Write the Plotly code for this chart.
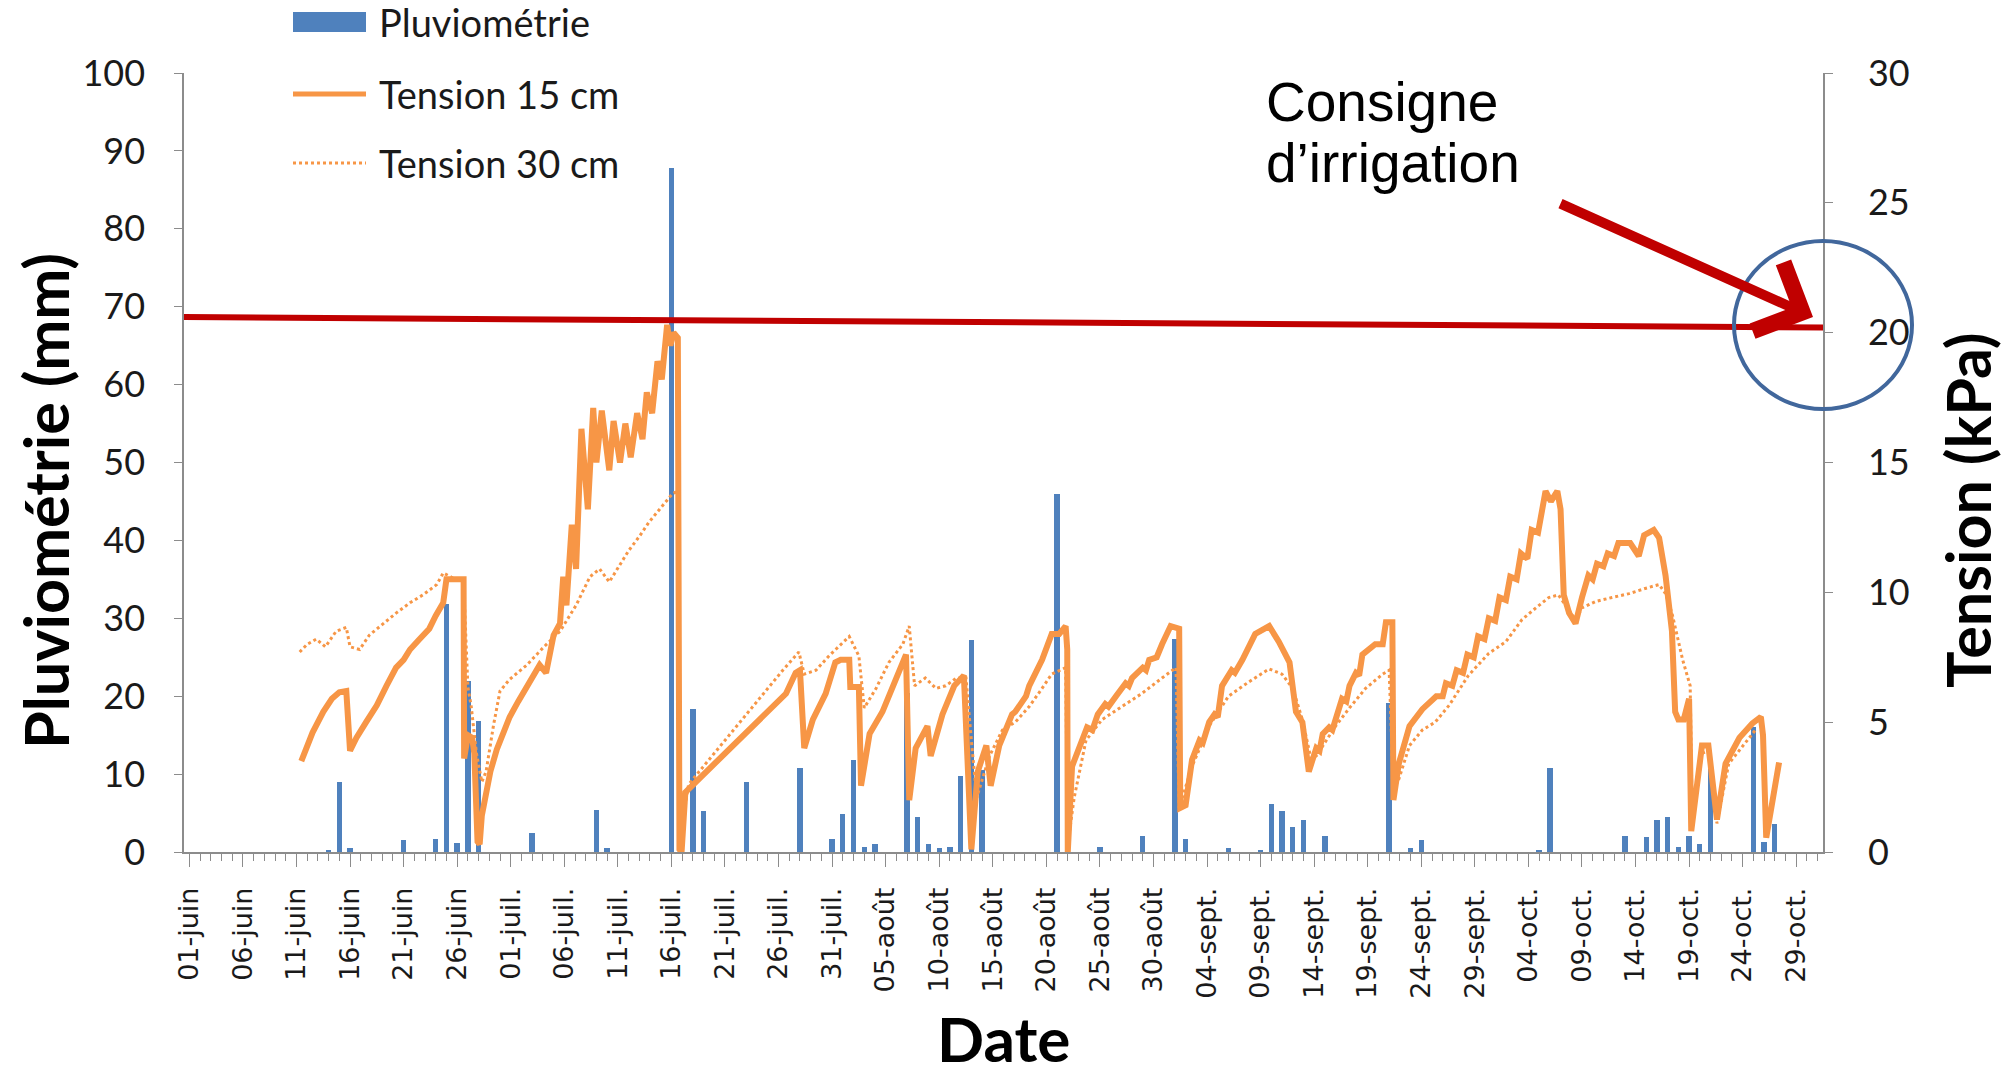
import pandas as pd
import plotly.graph_objects as go

SEASON_START = pd.Timestamp("2014-06-01")

# Daily rainfall: day offset from 1 June, amount in mm
rain_day = [13, 14, 15, 20, 23, 24, 25, 26, 27, 32, 38, 39, 45, 47, 48, 52, 57,
            60, 61, 62, 63, 64, 67, 68, 69, 70, 71, 72, 73, 74, 81, 82, 85, 89,
            92, 93, 97, 100, 101, 102, 103, 104, 106, 112, 114, 115, 126, 127,
            134, 136, 137, 138, 139, 140, 141, 142, 146, 147, 148]
rain_mm = [0.2, 9.0, 0.5, 1.5, 1.7, 31.8, 1.1, 22.0, 16.8, 2.4, 5.4, 0.5, 87.8,
           18.4, 5.3, 9.0, 10.8, 1.7, 4.9, 11.8, 0.7, 1.0, 20.4, 4.5, 1.0, 0.5,
           0.7, 9.8, 27.2, 10.5, 46.0, 0.4, 0.7, 2.1, 27.4, 1.7, 0.5, 0.2, 6.2,
           5.2, 3.2, 4.1, 2.1, 19.1, 0.5, 1.5, 0.2, 10.8, 2.0, 1.9, 4.1, 4.5,
           0.7, 2.1, 1.0, 10.6, 16.1, 1.3, 3.6]

# Soil water tension at 15 cm: time (days from 1 June), kPa
t15_day = [10.45, 11.5, 12.5, 13.3, 14.0, 14.65, 15.0, 15.6, 16.5, 17.5, 18.4,
           19.3, 20.0, 20.6, 21.5, 22.4, 23.0, 23.7, 24.0, 25.6, 25.65, 26.0,
           26.4, 26.6, 26.9, 27.1, 27.3, 27.6, 28.1, 28.7, 29.3, 29.9, 30.7,
           31.5, 32.1, 32.7, 33.3, 34.0, 34.6, 34.9, 35.2, 35.7, 36.1, 36.6,
           37.2, 37.7, 38.0, 38.5, 39.2, 39.6, 40.2, 40.7, 41.2, 41.8, 42.3,
           42.7, 43.2, 43.7, 44.1, 44.6, 44.9, 45.2, 45.6, 45.75, 45.95, 46.3,
           55.7, 56.6, 57.0, 57.4, 58.2, 59.4, 60.3, 60.8, 61.6, 61.7, 62.5,
           62.7, 63.5, 64.7, 65.9, 66.9, 67.2, 67.8, 68.9, 69.2, 70.3, 71.4,
           72.3, 72.6, 73.0, 73.6, 74.4, 74.8, 75.6, 76.8, 77.1, 78.1, 78.4,
           79.6, 80.5, 81.2, 81.8, 81.95, 82.0, 82.4, 83.3, 83.8, 84.3, 84.8,
           85.5, 85.8, 86.5, 87.4, 87.7, 88.0, 89.0, 89.3, 89.6, 90.3, 90.8,
           91.6, 92.4, 92.5, 93.0, 93.6, 94.3, 94.6, 95.2, 95.7, 96.0, 96.4,
           97.3, 97.6, 98.3, 99.5, 100.8, 101.7, 102.7, 103.3, 103.9, 104.5,
           105.2, 105.5, 105.8, 106.4, 106.7, 107.0, 107.6, 108.0, 108.3,
           108.9, 109.2, 109.5, 110.7, 111.4, 111.7, 112.3, 112.4, 112.9,
           113.9, 115.1, 116.4, 117.0, 117.3, 117.9, 118.3, 118.9, 119.3,
           119.9, 120.3, 120.9, 121.3, 121.9, 122.3, 122.9, 123.3, 123.9,
           124.3, 124.9, 125.3, 125.9, 126.3, 126.6, 127.1, 127.7, 128.0,
           128.3, 128.8, 129.4, 130.0, 130.6, 131.0, 131.4, 132.0, 132.4,
           133.0, 133.4, 134.5, 135.3, 135.8, 136.7, 137.2, 137.8, 138.4,
           138.7, 139.0, 139.5, 140.0, 140.2, 141.2, 141.8, 142.6, 143.4,
           144.7, 145.9, 146.7, 146.9, 147.2, 147.8, 148.4]
t15_kpa = [3.5, 4.6, 5.4, 5.9, 6.15, 6.2, 3.9, 4.4, 5.0, 5.65, 6.4, 7.1, 7.4,
           7.8, 8.2, 8.6, 9.1, 9.6, 10.5, 10.5, 3.6, 4.5, 4.4, 3.8, 0.4, 0.3,
           1.4, 2.1, 3.1, 3.95, 4.6, 5.2, 5.8, 6.4, 6.8, 7.2, 6.9, 8.35, 8.8,
           10.6, 9.5, 12.6, 10.9, 16.3, 13.2, 17.1, 15.0, 17.0, 14.7, 16.6,
           15.0, 16.5, 15.2, 16.9, 15.9, 17.7, 16.9, 18.9, 18.2, 20.3, 19.5,
           20.0, 19.8, 0.1, 0.0, 2.3, 6.1, 6.9, 7.0, 4.0, 5.1, 6.1, 7.3, 7.4,
           7.4, 6.35, 6.35, 2.55, 4.55, 5.4, 6.6, 7.6, 2.0, 4.0, 4.85, 3.7,
           5.3, 6.4, 6.8, 3.55, 0.1, 3.1, 4.1, 2.55, 4.1, 5.3, 5.4, 6.0, 6.4,
           7.4, 8.4, 8.4, 8.7, 7.8, 0.0, 3.3, 4.3, 4.8, 4.7, 5.3, 5.7, 5.6,
           6.0, 6.5, 6.4, 6.7, 7.1, 7.0, 7.4, 7.5, 8.0, 8.7, 8.6, 1.7, 1.8,
           3.55, 4.3, 4.2, 5.0, 5.3, 5.2, 6.4, 7.0, 6.9, 7.4, 8.4, 8.7, 8.1,
           7.3, 5.4, 5.0, 3.1, 4.0, 3.9, 4.55, 4.8, 4.7, 5.1, 5.9, 5.8, 6.4,
           6.9, 6.8, 7.6, 8.0, 8.0, 8.85, 8.85, 2.0, 3.4, 4.85, 5.5, 6.0, 6.0,
           6.5, 6.4, 7.0, 6.9, 7.6, 7.5, 8.3, 8.2, 9.0, 8.9, 9.8, 9.7, 10.6,
           10.5, 11.5, 11.3, 12.4, 12.3, 13.3, 13.9, 13.5, 13.9, 13.2, 9.9,
           9.2, 8.8, 9.8, 10.65, 10.5, 11.1, 11.0, 11.5, 11.4, 11.9, 11.9,
           11.4, 12.2, 12.4, 12.1, 10.65, 8.5, 5.4, 5.1, 5.1, 5.9, 0.8, 4.1,
           4.1, 1.25, 3.4, 4.4, 4.95, 5.2, 4.5, 0.55, 2.1, 3.45]

# Soil water tension at 30 cm
t30_day = [10.3, 11.0, 11.85, 12.7, 13.7, 14.65, 15.0, 15.9, 16.8, 18.1, 19.3,
           20.6, 21.8, 23.1, 23.7, 24.6, 25.6, 26.0, 26.3, 26.8, 27.3, 27.7,
           28.4, 29.0, 29.9, 31.5, 33.1, 34.6, 36.1, 37.4, 38.3, 39.2, 40.1,
           41.0, 42.0, 42.9, 44.1, 45.1, 45.6, 45.8, 46.0, 46.6, 55.4, 56.9,
           57.4, 58.5, 59.7, 61.6, 62.5, 63.0, 64.1, 65.3, 66.6, 67.2, 67.7,
           68.7, 69.7, 70.6, 71.6, 72.5, 73.0, 73.5, 74.7, 75.9, 77.1, 78.4,
           79.6, 80.5, 81.8, 82.0, 82.6, 83.7, 85.2, 87.1, 88.9, 90.8, 92.1,
           92.4, 93.6, 95.2, 97.0, 98.9, 100.8, 102.0, 103.0, 103.9, 104.7,
           105.2, 107.0, 108.3, 109.8, 111.4, 112.0, 112.4, 112.9, 113.9,
           115.1, 116.3, 117.6, 119.4, 121.3, 122.9, 124.4, 125.7, 126.9,
           127.8, 128.5, 129.4, 130.0, 131.3, 132.8, 134.4, 135.9, 137.2,
           137.8, 138.4, 139.4, 140.1, 140.3, 141.2, 141.8, 142.6, 143.7,
           145.3, 146.2]
t30_kpa = [7.7, 8.0, 8.2, 7.9, 8.5, 8.65, 7.9, 7.8, 8.35, 8.8, 9.2, 9.6, 9.9,
           10.3, 10.75, 10.55, 10.4, 6.35, 5.65, 3.8, 2.7, 3.1, 4.9, 6.2, 6.65,
           7.2, 7.9, 8.5, 9.5, 10.6, 10.9, 10.4, 11.0, 11.6, 12.15, 12.7, 13.3,
           13.8, 13.9, 1.5, 1.0, 2.6, 7.0, 7.7, 6.85, 7.0, 7.55, 8.3, 7.55,
           5.55, 6.3, 7.3, 8.0, 8.7, 6.4, 6.7, 6.3, 6.4, 6.7, 6.7, 4.3, 2.1,
           3.7, 4.7, 5.0, 5.6, 6.3, 6.85, 7.1, 0.3, 2.1, 4.3, 5.1, 5.6, 6.1,
           6.7, 7.1, 1.7, 3.3, 4.85, 6.0, 6.55, 7.05, 6.85, 6.3, 5.1, 3.6, 3.7,
           4.85, 5.55, 6.3, 6.85, 7.0, 2.4, 2.8, 4.1, 4.7, 5.0, 5.65, 6.8,
           7.65, 8.1, 8.95, 9.4, 9.8, 9.9, 9.5, 8.95, 9.4, 9.65, 9.8, 9.95,
           10.15, 10.3, 9.95, 9.2, 7.4, 6.4, 1.0, 3.8, 3.9, 1.1, 3.4, 4.25, 4.7]

# Category labels on the date axis (every fifth day)
tick_labels = ["01-juin", "06-juin", "11-juin", "16-juin", "21-juin", "26-juin",
               "01-juil.", "06-juil.", "11-juil.", "16-juil.", "21-juil.",
               "26-juil.", "31-juil.", "05-août", "10-août", "15-août",
               "20-août", "25-août", "30-août", "04-sept.", "09-sept.",
               "14-sept.", "19-sept.", "24-sept.", "29-sept.", "04-oct.",
               "09-oct.", "14-oct.", "19-oct.", "24-oct.", "29-oct."]

IRRIGATION_SETPOINT = (20.6, 20.2)   # kPa, drawn from left to right edge

ORANGE = "#F79646"
BLUE = "#4F81BD"
RED = "#C00000"
AXIS_GREY = "#8C8C8C"


def to_dates(days):
    return SEASON_START + pd.to_timedelta(pd.Series(days, dtype=float), unit="D")


fig = go.Figure()

fig.add_trace(go.Bar(
    x=to_dates(rain_day), y=rain_mm, name="Pluviométrie",
    marker=dict(color=BLUE, line=dict(width=0)),
    width=0.5 * 86400000, yaxis="y", showlegend=False,
))
fig.add_trace(go.Scatter(
    x=to_dates(t30_day), y=t30_kpa, name="Tension 30 cm", mode="lines",
    line=dict(color=ORANGE, width=3, dash="dot"), yaxis="y2",
    showlegend=False,
))
fig.add_trace(go.Scatter(
    x=to_dates(t15_day), y=t15_kpa, name="Tension 15 cm", mode="lines",
    line=dict(color=ORANGE, width=6), yaxis="y2", showlegend=False,
))

tick_vals = pd.date_range(SEASON_START, periods=len(tick_labels), freq="5D")
x_lo = SEASON_START - pd.Timedelta(hours=12)
x_hi = SEASON_START + pd.Timedelta(days=152.5)

fig.update_layout(
    width=2016, height=1075,
    margin=dict(l=184, r=193, t=73, b=223),
    paper_bgcolor="white", plot_bgcolor="white",
    bargap=0,
    xaxis=dict(
        type="date", range=[x_lo, x_hi],
        tickmode="array", tickvals=tick_vals, ticktext=tick_labels,
        tickangle=-90, ticks="outside", ticklen=13, tickwidth=1.3,
        tickcolor=AXIS_GREY, showline=True, linecolor=AXIS_GREY,
        linewidth=1.5, showgrid=False, zeroline=False,
        tickfont=dict(family="DejaVu Sans", size=27, color="#1a1a1a"),
        minor=dict(dtick=86400000, tick0=SEASON_START, ticks="outside",
                   ticklen=7, tickwidth=1, tickcolor=AXIS_GREY,
                   showgrid=False),
        ticklabelstandoff=10,
    ),
    yaxis=dict(
        range=[0, 100], dtick=10, ticks="outside", ticklen=8,
        tickcolor=AXIS_GREY, showline=True, linecolor=AXIS_GREY,
        linewidth=1.5, showgrid=False, zeroline=False,
        tickfont=dict(family="Lato", size=36, color="#1a1a1a"),
        ticklabelstandoff=22,
    ),
    yaxis2=dict(
        range=[0, 30], dtick=5, overlaying="y", side="right",
        ticks="outside", ticklen=8, tickcolor=AXIS_GREY, showline=True,
        linecolor=AXIS_GREY, linewidth=1.5, showgrid=False, zeroline=False,
        tickfont=dict(family="Lato", size=36, color="#1a1a1a"),
        ticklabelstandoff=28,
    ),
)

PLOT_L, PLOT_R, PLOT_T, PLOT_B = 184, 1823, 73, 852


def px(x):
    return (x - PLOT_L) / (PLOT_R - PLOT_L)


def py(y):
    return (PLOT_B - y) / (PLOT_B - PLOT_T)


shapes = [
    # irrigation set-point line
    dict(type="line", xref="paper", yref="y2", x0=0, x1=1,
         y0=IRRIGATION_SETPOINT[0], y1=IRRIGATION_SETPOINT[1],
         line=dict(color=RED, width=6), layer="above"),
    # highlight ellipse around the set-point on the tension axis
    dict(type="circle", xref="paper", yref="paper",
         x0=px(1734), x1=px(1912), y0=py(409), y1=py(241),
         line=dict(color="#41679C", width=4), layer="above"),
    # legend symbols
    dict(type="rect", xref="paper", yref="paper",
         x0=px(293), x1=px(366), y0=py(32), y1=py(12),
         fillcolor=BLUE, line=dict(width=0)),
    dict(type="line", xref="paper", yref="paper",
         x0=px(293), x1=px(366), y0=py(94), y1=py(94),
         line=dict(color=ORANGE, width=5)),
    dict(type="line", xref="paper", yref="paper",
         x0=px(293), x1=px(366), y0=py(163), y1=py(163),
         line=dict(color=ORANGE, width=3, dash="dot")),
]
fig.update_layout(shapes=shapes)

legend_font = dict(family="Lato", size=38, color="#1a1a1a")
axis_title_font = dict(family="Lato", size=61, color="black", weight="bold")
date_title_font = dict(family="Lato", size=62, color="black", weight="bold")
note_font = dict(family="Liberation Sans", size=55, color="black")

annotations = [
    dict(text="Pluviométrie", x=px(377), y=py(22)),
    dict(text="Tension 15 cm", x=px(377), y=py(94)),
    dict(text="Tension 30 cm", x=px(377), y=py(163)),
]
annotations = [dict(a, xref="paper", yref="paper", xanchor="left",
                    yanchor="middle", showarrow=False, font=legend_font)
               for a in annotations]

annotations += [
    dict(text="Pluviométrie (mm)", x=px(45), y=py(501), textangle=-90,
         xref="paper", yref="paper", xanchor="center", yanchor="middle",
         showarrow=False, font=axis_title_font),
    dict(text="Tension (kPa)", x=px(1967), y=py(510), textangle=-90,
         xref="paper", yref="paper", xanchor="center", yanchor="middle",
         showarrow=False, font=axis_title_font),
    dict(text="Date", x=px(1003), y=py(1038), xref="paper", yref="paper",
         xanchor="center", yanchor="middle", showarrow=False,
         font=date_title_font),
    dict(text="Consigne", x=px(1264), y=py(102), xref="paper", yref="paper",
         xanchor="left", yanchor="middle", showarrow=False, font=note_font),
    dict(text="d’irrigation", x=px(1264), y=py(163), xref="paper",
         yref="paper", xanchor="left", yanchor="middle", showarrow=False,
         font=note_font),
    # arrow pointing at the set-point
    dict(text="", x=px(1813), y=py(317), xref="paper", yref="paper",
         ax=1559 - 1813, ay=203 - 317, axref="pixel", ayref="pixel",
         showarrow=True, arrowhead=4, arrowsize=1.45, arrowwidth=10,
         arrowcolor=RED, standoff=0),
]
fig.update_layout(annotations=annotations)

fig.write_html("out.html")
